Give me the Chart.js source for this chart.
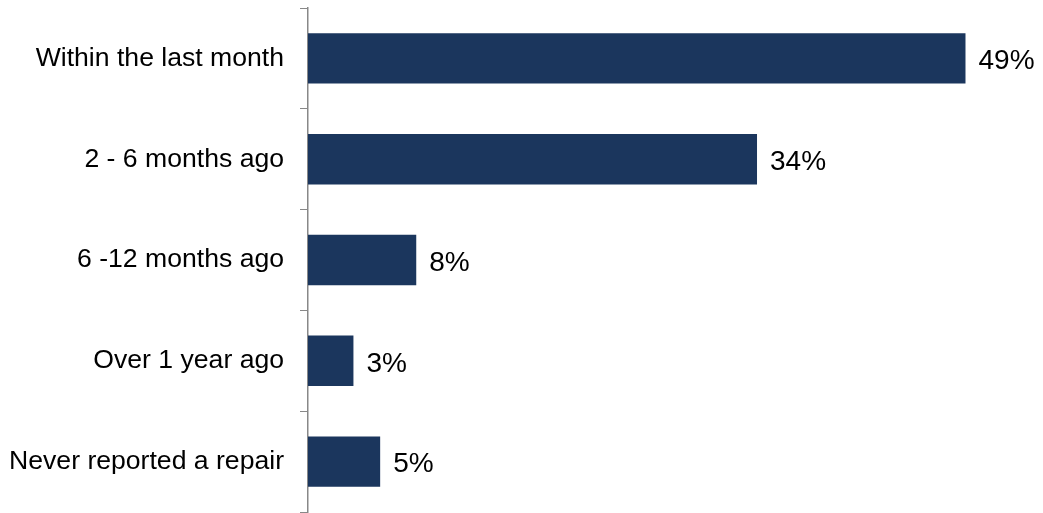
<!DOCTYPE html>
<html>
<head>
<meta charset="utf-8">
<script src="https://cdn.jsdelivr.net/npm/chart.js@4"></script>
<style>
  html, body { margin: 0; padding: 0; background: #fff; }
  #wrap { width: 1043px; height: 513px; }
</style>
</head>
<body>
<div id="wrap"><canvas id="chart"></canvas></div>
<script>
const categories = ["Within the last month", "2 - 6 months ago", "6 -12 months ago", "Over 1 year ago", "Never reported a repair"];
const values = [49.2, 33.6, 8.1, 3.4, 5.4];
const valueLabels = ["49%", "34%", "8%", "3%", "5%"];

// draws the % text just right of each bar
const barLabels = {
    id: "barLabels",
    afterDatasetsDraw(chart) {
        const ctx = chart.ctx;
        const meta = chart.getDatasetMeta(0);
        ctx.save();
        ctx.font = "28px 'Liberation Sans', Arial, sans-serif";
        ctx.fillStyle = "#000";
        ctx.textBaseline = "middle";
        meta.data.forEach(function(bar, i) {
            ctx.fillText(valueLabels[i], bar.x + 13, bar.y + 3);
        });
        ctx.restore();
    }
};

new Chart(document.getElementById("chart"), {
    type: "bar",
    data: {
        labels: categories,
        datasets: [{
            data: values,
            backgroundColor: "#1b365d",
            borderWidth: 0,
            barPercentage: 0.5,
            categoryPercentage: 1
        }]
    },
    options: {
        indexAxis: "y",
        responsive: true,
        maintainAspectRatio: false,
        animation: false,
        layout: { padding: { top: 8, bottom: 1, left: 0, right: 0 } },
        plugins: {
            legend: { display: false },
            tooltip: { enabled: false }
        },
        scales: {
            x: {
                display: false,
                min: 0,
                max: 55
            },
            y: {
                afterFit(scale) {
                    scale.paddingTop = 0;
                    scale.paddingBottom = 0;
                    scale.width = 308;
                },
                grid: {
                    drawOnChartArea: false,
                    drawTicks: true,
                    tickLength: 8,
                    color: "#888",
                    offset: true
                },
                border: { display: true, color: "#888", width: 1.5 },
                ticks: {
                    color: "#000",
                    padding: 16,
                    font: { family: "'Liberation Sans', Arial, sans-serif", size: 26.6 }
                }
            }
        }
    },
    plugins: [barLabels]
});
</script>
</body>
</html>
